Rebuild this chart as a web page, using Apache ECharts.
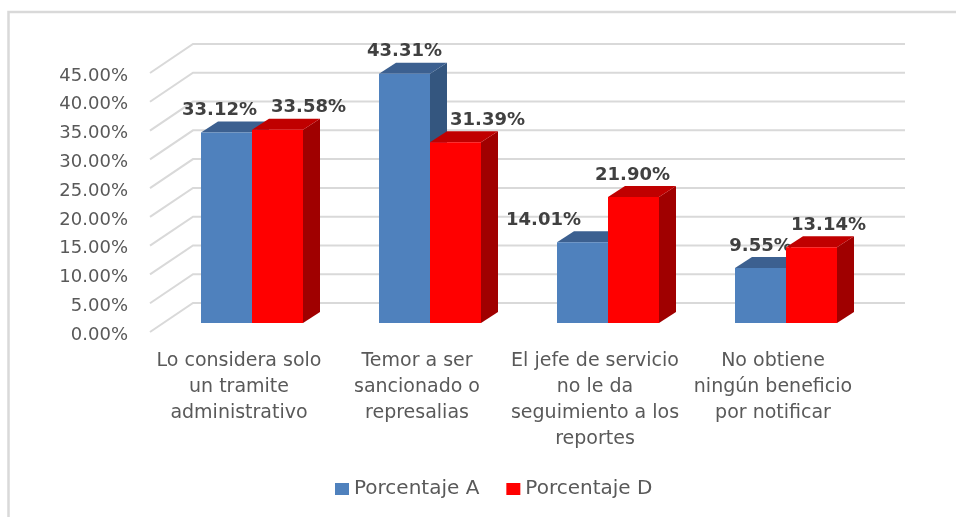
<!DOCTYPE html>
<html>
<head>
<meta charset="utf-8">
<style>
  html, body { margin: 0; padding: 0; background: #fff; }
  #chart { width: 956px; height: 517px; }
</style>
<script src="https://cdn.jsdelivr.net/npm/echarts@6/dist/echarts.min.js"></script>
</head>
<body>
<div id="chart"></div>
<script>
var categories = [
  'Lo considera solo\nun tramite\nadministrativo',
  'Temor a ser\nsancionado o\nrepresalias',
  'El jefe de servicio\nno le da\nseguimiento a los\nreportes',
  'No obtiene\nningún beneficio\npor notificar'
];
var porcentajeA = [33.12, 43.31, 14.01, 9.55];
var porcentajeD = [33.58, 31.39, 21.90, 13.14];
var ticks = [0, 5, 10, 15, 20, 25, 30, 35, 40, 45];

// hand placed labels, same as the original
var labelShiftA = [-7, 0, -39, 0];
var labelShiftD = [31, 32, -1, 17];

var wallDx = 43, wallDy = 29;   // depth of the floor
var barDx = 17, barDy = 11;     // depth of a bar
var barIn = 9;                  // how far the bars sit behind the front edge
var barW = 51;

var myChart = echarts.init(document.getElementById('chart'));

function wallItem(params, api) {
  var p = api.coord([0, api.value(1)]);
  var band = api.size([1, 0])[0];
  var left = p[0] - band / 2;
  var right = left + band * categories.length;
  return {
    type: 'polyline',
    shape: { points: [[left, p[1]], [left + wallDx, p[1] - wallDy], [right + wallDx, p[1] - wallDy]] },
    style: { fill: null, stroke: '#d9d9d9', lineWidth: 2 }
  };
}

function barItem(side, front, top, flank, shifts) {
  return function (params, api) {
    var i = api.value(0);
    var v = api.value(1);
    var c = api.coord([i, v]);
    var c0 = api.coord([i, 0]);
    var x0 = c[0] + 13 + (side < 0 ? -barW : 0);
    var x1 = x0 + barW;
    var yt = c[1] - barIn;
    var yb = c0[1] - barIn;
    return {
      type: 'group',
      children: [
        { type: 'polygon', shape: { points: [[x1, yt], [x1 + barDx, yt - barDy], [x1 + barDx, yb - barDy], [x1, yb]] }, style: { fill: flank } },
        { type: 'polygon', shape: { points: [[x0, yt], [x0 + barDx, yt - barDy], [x1 + barDx, yt - barDy], [x1, yt]] }, style: { fill: top } },
        { type: 'rect', shape: { x: x0, y: yt, width: barW, height: yb - yt }, style: { fill: front } },
        {
          type: 'text',
          z2: 10,
          style: {
            x: (x0 + x1) / 2 + shifts[i],
            y: yt - 22,
            text: v.toFixed(2) + '%',
            align: 'center',
            verticalAlign: 'middle',
            fill: '#404040',
            font: 'bold 18px "DejaVu Sans"'
          }
        }
      ]
    };
  };
}

var option = {
  animation: false,
  backgroundColor: '#fff',
  textStyle: { fontFamily: 'DejaVu Sans' },
  grid: { left: 150, right: 94, top: 73, bottom: 185 },
  legend: {
    data: ['Porcentaje A', 'Porcentaje D'],
    left: 330,
    top: 474,
    icon: 'rect',
    itemWidth: 14,
    itemHeight: 12,
    itemGap: 27,
    textStyle: { color: '#595959', fontSize: 20 }
  },
  xAxis: {
    type: 'category',
    data: categories,
    axisLine: { show: false },
    axisTick: { show: false },
    axisLabel: { color: '#595959', fontSize: 19, lineHeight: 26, margin: 16, interval: 0 }
  },
  yAxis: {
    type: 'value',
    min: 0,
    max: 45,
    interval: 5,
    axisLine: { show: false },
    axisTick: { show: false },
    splitLine: { show: false },
    axisLabel: {
      color: '#595959',
      fontSize: 18,
      margin: 22,
      verticalAlign: 'top',
      lineHeight: 6,
      formatter: function (v) { return v.toFixed(2) + '%'; }
    }
  },
  graphic: [{
    type: 'polyline',
    silent: true,
    shape: { points: [[8.5, 517], [8.5, 12], [956, 12]] },
    style: { fill: null, stroke: '#d9d9d9', lineWidth: 2.5 }
  }],
  series: [
    {
      name: 'walls',
      type: 'custom',
      silent: true,
      z: 1,
      renderItem: wallItem,
      encode: { x: 0, y: 1 },
      data: ticks.map(function (t) { return [0, t]; })
    },
    {
      name: 'Porcentaje A',
      type: 'custom',
      z: 2,
      itemStyle: { color: '#4f81bd' },
      renderItem: barItem(-1, '#4f81bd', '#3c6090', '#34567f', labelShiftA),
      encode: { x: 0, y: 1 },
      data: porcentajeA.map(function (v, i) { return [i, v]; })
    },
    {
      name: 'Porcentaje D',
      type: 'custom',
      z: 3,
      itemStyle: { color: '#ff0000' },
      renderItem: barItem(1, '#ff0000', '#c00000', '#a00000', labelShiftD),
      encode: { x: 0, y: 1 },
      data: porcentajeD.map(function (v, i) { return [i, v]; })
    }
  ]
};

option && myChart.setOption(option);
</script>
</body>
</html>
